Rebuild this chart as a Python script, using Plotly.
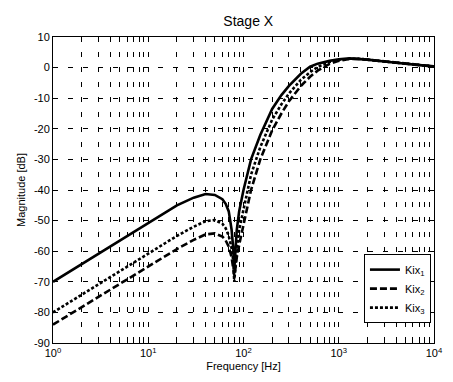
import plotly.graph_objects as go

# Frequency points (Hz) shared by all three responses
freq = [1, 2, 3, 5, 7, 10, 15, 20, 30, 40, 50, 60, 65, 70, 75, 78, 80, 82, 85,
        90, 100, 120, 150, 200, 250, 300, 400, 500, 600, 800, 1000, 1300, 1600,
        2000, 3000, 5000, 7000, 10000]

# Magnitude responses in dB
kix1 = [-70, -64.2, -60.8, -56.5, -53.6, -50.7, -47.4, -45.0, -42.5, -41.3,
        -41.6, -43.0, -44.5, -47.0, -53.0, -59.0, -66.0, -60.0, -53.0,
        -47.0, -40.0, -30.0, -22.0, -13.5, -9.0, -6.0, -2.0, 0.3, 1.3, 2.2,
        2.7, 3.0, 2.9, 2.6, 2.0, 1.2, 0.8, 0.4]
kix2 = [-84, -78.3, -75.0, -70.7, -67.9, -65.0, -61.6, -59.3, -56.3, -54.5,
        -54.2, -55.2, -56.5, -58.5, -62.0, -65.0, -68.0, -66.0, -62.0,
        -58.0, -51.0, -40.0, -30.0, -20.5, -15.0, -11.0, -6.0, -3.0, -1.0, 1.2,
        2.2, 2.8, 2.9, 2.6, 2.0, 1.2, 0.8, 0.4]
kix3 = [-80, -74.3, -70.9, -66.6, -63.8, -60.8, -57.4, -55.0, -52.0, -50.2,
        -49.8, -51.0, -52.5, -55.0, -59.0, -63.0, -70.0, -65.0, -59.0,
        -53.0, -46.0, -35.0, -26.0, -17.0, -12.0, -8.5, -4.0, -1.5, 0.2, 1.8,
        2.5, 2.9, 2.9, 2.6, 2.0, 1.2, 0.8, 0.4]

series = [
    ("Kix<sub>1</sub>", kix1, "solid"),
    ("Kix<sub>2</sub>", kix2, "7px,3px"),
    ("Kix<sub>3</sub>", kix3, "3px,2px"),
]

# Log-axis ticks: every integer multiple within each decade
x_ticks = [m * 10 ** d for d in range(4) for m in range(1, 10)] + [10000]
x_text = ["10<sup>%d</sup>" % d if m == 1 else "" for d in range(4) for m in range(1, 10)] + ["10<sup>4</sup>"]
y_ticks = list(range(-90, 11, 10))

fig = go.Figure()
for name, mag, dash in series:
    fig.add_trace(go.Scatter(
        x=freq, y=mag, name=name, mode="lines",
        line=dict(color="black", width=2.6, dash=dash, shape="linear"),
    ))

axis_common = dict(
    showline=True, linecolor="black", linewidth=1, mirror="ticks",
    ticks="inside", ticklen=4, tickcolor="black", tickwidth=1,
    showgrid=True, gridcolor="black", gridwidth=1, griddash="5px,10px",
    zeroline=False, tickfont=dict(size=11, color="black"),
)

fig.update_xaxes(
    type="log", range=[0, 4], tickmode="array", tickvals=x_ticks, ticktext=x_text,
    title=dict(text="Frequency [Hz]", font=dict(size=11, color="black"), standoff=4),
    **axis_common,
)
fig.update_yaxes(
    range=[-90, 10], tickmode="array", tickvals=y_ticks,
    ticktext=[str(v) for v in y_ticks],
    title=dict(text="Magnitude [dB]", font=dict(size=11, color="black"), standoff=6),
    **axis_common,
)

fig.update_layout(
    width=453, height=382,
    margin=dict(l=53, r=10, t=37, b=39),
    paper_bgcolor="white", plot_bgcolor="white",
    font=dict(family="Liberation Sans, Arial, sans-serif", color="black"),
    title=dict(text="Stage X", x=0.548, xanchor="center", y=0.945, yanchor="middle",
               font=dict(size=14, color="black")),
    legend=dict(
        x=0.992, xanchor="right", y=0.065, yanchor="bottom",
        bgcolor="white", bordercolor="black", borderwidth=1,
        font=dict(size=11, color="black"), tracegroupgap=0,
        itemwidth=30,
    ),
    showlegend=True,
)

fig.write_html("out.html")
